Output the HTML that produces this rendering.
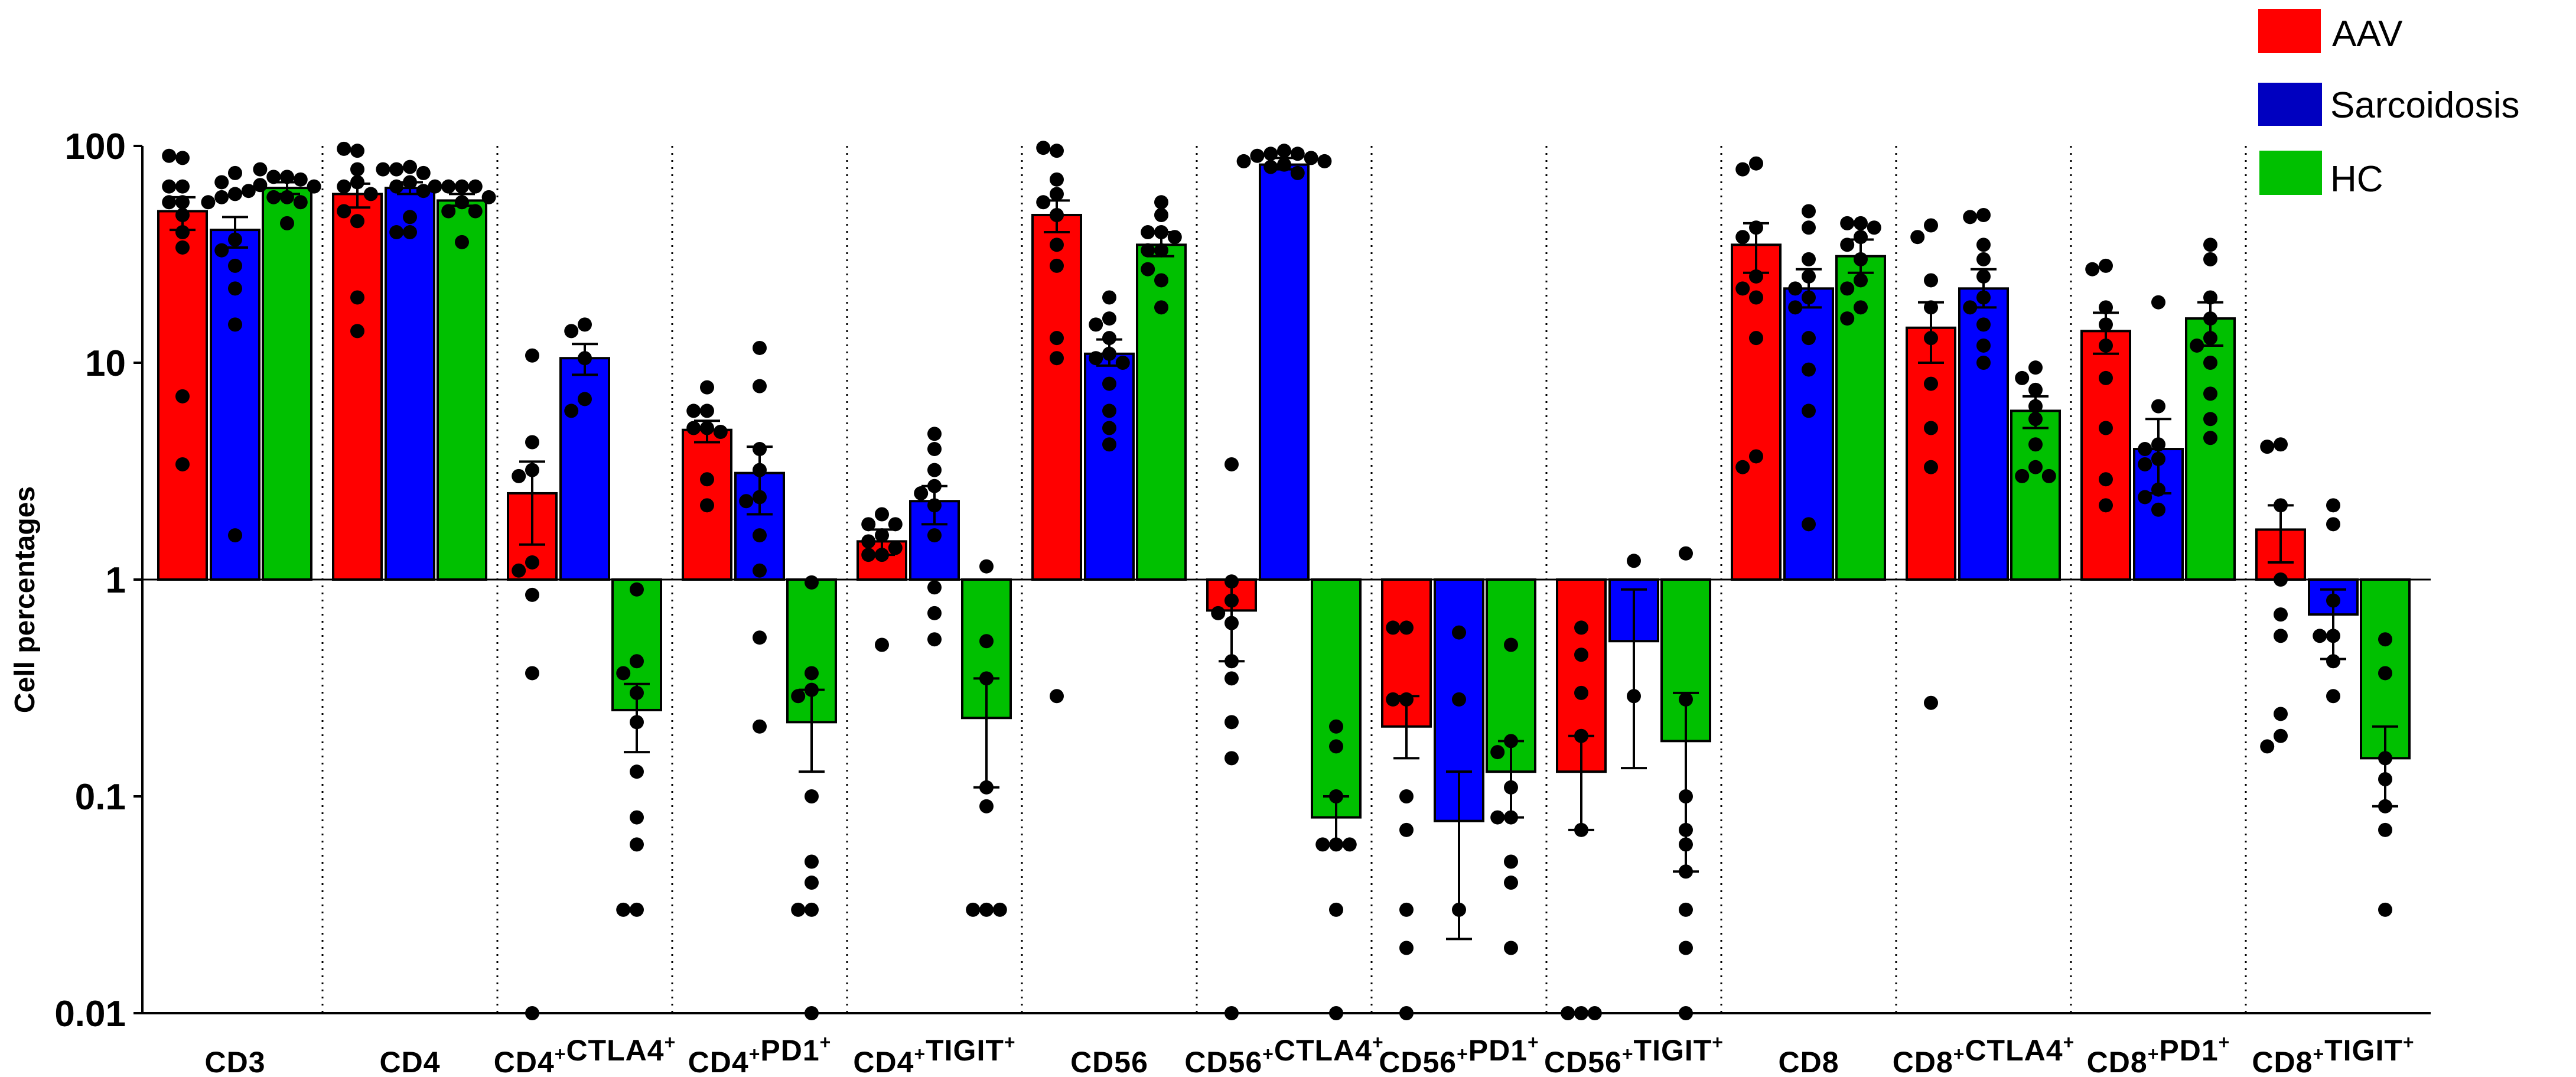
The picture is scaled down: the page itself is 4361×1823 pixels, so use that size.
<!DOCTYPE html>
<html><head><meta charset="utf-8"><style>
html,body{margin:0;padding:0;background:#fff;}
svg{display:block;}
</style></head><body>
<svg id="chart" width="4361" height="1823" viewBox="0 0 4361 1823" xmlns="http://www.w3.org/2000/svg" font-family="Liberation Sans, Arial, sans-serif">
<g id="legend">
 <g><rect x="3823" y="15" width="106" height="75" fill="#ff0000"/><text x="3948" y="78" font-size="62">AAV</text></g>
 <g><rect x="3823" y="140" width="108" height="73" fill="#0000c0"/><text x="3945" y="199" font-size="62">Sarcoidosis</text></g>
 <g><rect x="3825" y="255" width="106" height="75" fill="#00c000"/><text x="3945" y="324" font-size="62">HC</text></g>
</g>
<text transform="translate(58,1015) rotate(-90)" text-anchor="middle" font-size="48" font-weight="bold">Cell percentages</text>
<g id="plot"></g>
</svg>
<script>
const categories = ["CD3","CD4","CD4+CTLA4+","CD4+PD1+","CD4+TIGIT+","CD56","CD56+CTLA4+","CD56+PD1+","CD56+TIGIT+","CD8","CD8+CTLA4+","CD8+PD1+","CD8+TIGIT+"];
const seriesNames = ["AAV","Sarcoidosis","HC"];
const yTicks = [100,10,1,0.1,0.01];
const yTickLabels = ["100","10","1","0.1","0.01"];
const aavMean = [50,60,2.5,4.9,1.5,48,0.72,0.21,0.13,35,14.5,14,1.7];
const aavErr = [[41,58],[52,67],[1.45,3.5],[4.3,5.4],[1.3,1.7],[40,56],[0.42,1.0],[0.15,0.29],[0.07,0.19],[26,44],[10,19],[11,17],[1.2,2.2]];
const sarcMean = [41,64,10.5,3.1,2.3,11,82,0.077,0.52,22,22,4.0,0.69];
const sarcErr = [[34,47],[60,68],[8.8,12.2],[2.0,4.1],[1.8,2.7],[9.7,12.8],[78,88],[0.022,0.13],[0.135,0.9],[18,27],[18,27],[2.5,5.5],[0.43,0.9]];
const hcMean = [64,56,0.25,0.22,0.23,35,0.08,0.13,0.18,31,6,16,0.15];
const hcErr = [[60,68],[53,60],[0.16,0.33],[0.13,0.31],[0.11,0.35],[31,40],[0.06,0.1],[0.08,0.18],[0.045,0.3],[26,37],[5,7],[12,19],[0.09,0.21]];
const aavDots = [
 [88,90,65,65,55,55,48,40,34,7,3.4],
 [95,97,78,68,65,60,45,50,20,14],
 [10.8,4.3,3.2,3.0,1.2,1.1,0.85,0.37,0.01],
 [7.7,6,6,5,5,4.8,2.9,2.2],
 [2.0,1.8,1.8,1.6,1.5,1.3,1.4,1.3,0.5],
 [95,98,70,60,55,48,35,28,13,10.5,0.29],
 [3.4,0.98,0.8,0.7,0.63,0.42,0.35,0.22,0.15,0.01],
 [0.6,0.6,0.28,0.28,0.1,0.07,0.03,0.02,0.01],
 [0.6,0.45,0.3,0.19,0.07,0.01,0.01,0.01],
 [83,78,42,38,25,22,20,13,3.7,3.3],
 [43,38,24,18,13,8,5,3.3,0.27],
 [28,27,18,15,12,8.5,5,2.9,2.2],
 [4.2,4.1,2.2,1.0,0.69,0.55,0.24,0.19,0.17]];
const sarcDots = [
 [75,68,60,58,62,55,37,33,28,22,15,1.6],
 [80,78,75,68,65,62,78,47,40,40],
 [15,14,10.5,6.8,6],
 [11.7,7.8,4,3.2,2.4,2.3,1.6,1.1,0.54,0.21],
 [4.7,4.0,3.2,2.7,2.5,2.2,1.6,0.92,0.7,0.53],
 [20,16,15,13,11,10.5,10,8,6,5,4.2],
 [95,92,92,90,88,85,82,80,75,85],
 [0.57,0.28,0.03],
 [1.22,0.29],
 [50,42,30,25,22,20,18,13,9.3,6,1.8],
 [48,47,35,30,25,20,18,15,12,10],
 [19,6.3,4.2,4,3.6,3.4,2.6,2.4,2.1],
 [2.2,1.8,0.8,0.55,0.55,0.42,0.29]];
const hcDots = [
 [72,72,70,78,58,58,55,44,66,65],
 [65,65,65,65,58,55,50,50,36],
 [0.9,0.42,0.37,0.30,0.22,0.13,0.08,0.06,0.03,0.03],
 [0.97,0.37,0.31,0.29,0.1,0.05,0.04,0.03,0.03,0.01],
 [1.15,0.52,0.35,0.11,0.09,0.03,0.03,0.03],
 [55,48,40,40,38,33,33,24,27,18],
 [0.21,0.17,0.1,0.06,0.06,0.06,0.03,0.01],
 [0.5,0.18,0.16,0.11,0.08,0.08,0.05,0.04,0.02],
 [1.32,0.28,0.1,0.07,0.06,0.045,0.03,0.02,0.01],
 [44,44,42,38,35,30,24,22,18,16],
 [9.5,8.5,7.5,6.3,5.5,4.2,3.3,3,3],
 [35,30,20,16,13,12,10,7.2,5.5,4.5],
 [0.53,0.37,0.15,0.12,0.09,0.07,0.03]];

const NS = "http://www.w3.org/2000/svg";
const plot = document.getElementById('plot');
const colors = ["#ff0000","#0000ff","#00c000"];
const axisLeft = 241, axisRight = 4115, yBottom = 1715;
function y(v){ return 981 - 367*Math.log10(v); }
function cx(i){ return 398 + 296*i; }
const offsets = [-89,0,88], barW = 82, dotR = 12;
function mk(tag, attrs, parent){ const e=document.createElementNS(NS,tag); for(const k in attrs) e.setAttribute(k,attrs[k]); (parent||plot).appendChild(e); return e; }

for(let i=1;i<categories.length;i++){
  const s = mk('line',{x1:cx(i)-148,x2:cx(i)-148,y1:247,y2:yBottom,stroke:'#000','stroke-width':3,'stroke-dasharray':'3 9'});
  
  
}
const means=[aavMean,sarcMean,hcMean], errs=[aavErr,sarcErr,hcErr], dots=[aavDots,sarcDots,hcDots];
for(let i=0;i<categories.length;i++){
  for(let s=0;s<3;s++){
    const x0 = cx(i)+offsets[s];
    const m = means[s][i];
    const yt = y(m), yb = y(1);
    const b = mk('rect',{x:x0-barW/2,y:Math.min(yt,yb),width:barW,height:Math.abs(yb-yt),fill:colors[s],stroke:'#000','stroke-width':4});
    
    
  }
  for(let s=0;s<3;s++){
    const x0 = cx(i)+offsets[s];
    const e = errs[s][i];
    const g = mk('g',{stroke:'#000','stroke-width':4});
    
    
    mk('line',{x1:x0,x2:x0,y1:y(e[0]),y2:y(e[1])},g);
    mk('line',{x1:x0-22,x2:x0+22,y1:y(e[0]),y2:y(e[0])},g);
    mk('line',{x1:x0-22,x2:x0+22,y1:y(e[1]),y2:y(e[1])},g);
    const placed=[];
    dots[s][i].forEach(v=>{
      const yy=y(v);
      let k=0, dx=0;
      const cand=[0,-1,1,-2,2,-3,3];
      for(k=0;k<cand.length;k++){
        dx=cand[k]*1.9*dotR;
        if(!placed.some(p=>Math.hypot(p[0]-dx,p[1]-yy)<1.8*dotR)) break;
      }
      placed.push([dx,yy]);
      const c = mk('circle',{cx:x0+dx,cy:yy,r:dotR,fill:'#000'});
      
      
    });
  }
}
mk('line',{x1:axisLeft,x2:axisRight,y1:y(1),y2:y(1),stroke:'#000','stroke-width':3});
const xa = mk('line',{x1:axisLeft,x2:axisRight,y1:yBottom,y2:yBottom,stroke:'#000','stroke-width':4});


const ya = mk('line',{x1:axisLeft,x2:axisLeft,y1:247,y2:yBottom+2,stroke:'#000','stroke-width':4});


yTicks.forEach((t,k)=>{
  mk('line',{x1:226,x2:axisLeft,y1:y(t),y2:y(t),stroke:'#000','stroke-width':4});
  const tl = mk('text',{x:213,y:y(t)+22,'text-anchor':'end','font-size':62,'font-weight':'bold'});
  tl.textContent = yTickLabels[k];
  
  
});
categories.forEach((c,i)=>{
  const t = mk('text',{x:cx(i),y:1815,'text-anchor':'middle','font-size':50,'font-weight':'bold','letter-spacing':1});
  
  
  const parts = c.split('+');
  parts.forEach((p,j)=>{
    if(p){ const ts=document.createElementNS(NS,'tspan'); ts.textContent=p; t.appendChild(ts); }
    if(j<parts.length-1){ const sp=document.createElementNS(NS,'tspan'); sp.setAttribute('dy','-20'); sp.setAttribute('font-size','32'); sp.textContent='+'; t.appendChild(sp);
      const back=document.createElementNS(NS,'tspan'); back.setAttribute('dy','20'); back.textContent=''; t.appendChild(back); }
  });
});
</script>
</body></html>
